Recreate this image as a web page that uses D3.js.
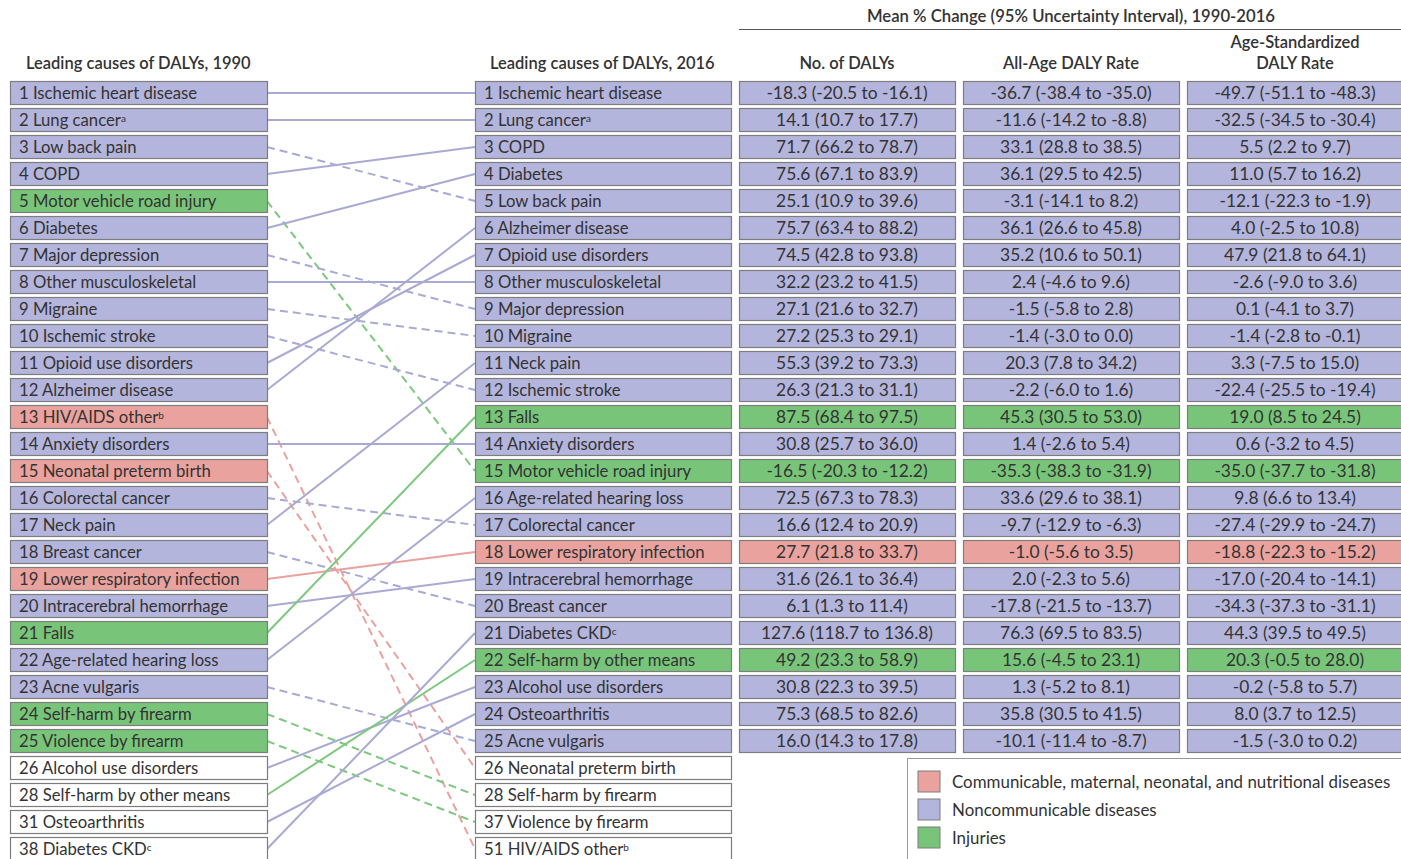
<!DOCTYPE html>
<html>
<head>
<meta charset="utf-8">
<script src="https://cdn.jsdelivr.net/npm/d3@7"></script>
<style>
  body { margin: 0; background: #fff; }
  svg { display: block; font-family: Lato, "Open Sans", sans-serif; }
</style>
</head>
<body>
<svg id="chart" width="1401" height="859"></svg>
<script>
// categories: C = communicable, N = noncommunicable, I = injuries
const causes1990 = [
  ['1', 'Ischemic heart disease', '', 'N'],
  ['2', 'Lung cancer', 'a', 'N'],
  ['3', 'Low back pain', '', 'N'],
  ['4', 'COPD', '', 'N'],
  ['5', 'Motor vehicle road injury', '', 'I'],
  ['6', 'Diabetes', '', 'N'],
  ['7', 'Major depression', '', 'N'],
  ['8', 'Other musculoskeletal', '', 'N'],
  ['9', 'Migraine', '', 'N'],
  ['10', 'Ischemic stroke', '', 'N'],
  ['11', 'Opioid use disorders', '', 'N'],
  ['12', 'Alzheimer disease', '', 'N'],
  ['13', 'HIV/AIDS other', 'b', 'C'],
  ['14', 'Anxiety disorders', '', 'N'],
  ['15', 'Neonatal preterm birth', '', 'C'],
  ['16', 'Colorectal cancer', '', 'N'],
  ['17', 'Neck pain', '', 'N'],
  ['18', 'Breast cancer', '', 'N'],
  ['19', 'Lower respiratory infection', '', 'C'],
  ['20', 'Intracerebral hemorrhage', '', 'N'],
  ['21', 'Falls', '', 'I'],
  ['22', 'Age-related hearing loss', '', 'N'],
  ['23', 'Acne vulgaris', '', 'N'],
  ['24', 'Self-harm by firearm', '', 'I'],
  ['25', 'Violence by firearm', '', 'I'],
  ['26', 'Alcohol use disorders', '', 'N'],
  ['28', 'Self-harm by other means', '', 'I'],
  ['31', 'Osteoarthritis', '', 'N'],
  ['38', 'Diabetes CKD', 'c', 'N']
];

const causes2016 = [
  ['1', 'Ischemic heart disease', '', 'N'],
  ['2', 'Lung cancer', 'a', 'N'],
  ['3', 'COPD', '', 'N'],
  ['4', 'Diabetes', '', 'N'],
  ['5', 'Low back pain', '', 'N'],
  ['6', 'Alzheimer disease', '', 'N'],
  ['7', 'Opioid use disorders', '', 'N'],
  ['8', 'Other musculoskeletal', '', 'N'],
  ['9', 'Major depression', '', 'N'],
  ['10', 'Migraine', '', 'N'],
  ['11', 'Neck pain', '', 'N'],
  ['12', 'Ischemic stroke', '', 'N'],
  ['13', 'Falls', '', 'I'],
  ['14', 'Anxiety disorders', '', 'N'],
  ['15', 'Motor vehicle road injury', '', 'I'],
  ['16', 'Age-related hearing loss', '', 'N'],
  ['17', 'Colorectal cancer', '', 'N'],
  ['18', 'Lower respiratory infection', '', 'C'],
  ['19', 'Intracerebral hemorrhage', '', 'N'],
  ['20', 'Breast cancer', '', 'N'],
  ['21', 'Diabetes CKD', 'c', 'N'],
  ['22', 'Self-harm by other means', '', 'I'],
  ['23', 'Alcohol use disorders', '', 'N'],
  ['24', 'Osteoarthritis', '', 'N'],
  ['25', 'Acne vulgaris', '', 'N'],
  ['26', 'Neonatal preterm birth', '', 'C'],
  ['28', 'Self-harm by firearm', '', 'I'],
  ['37', 'Violence by firearm', '', 'I'],
  ['51', 'HIV/AIDS other', 'b', 'C']
];

const changeDalys = [
  '-18.3 (-20.5 to -16.1)', '14.1 (10.7 to 17.7)', '71.7 (66.2 to 78.7)', '75.6 (67.1 to 83.9)',
  '25.1 (10.9 to 39.6)', '75.7 (63.4 to 88.2)', '74.5 (42.8 to 93.8)', '32.2 (23.2 to 41.5)',
  '27.1 (21.6 to 32.7)', '27.2 (25.3 to 29.1)', '55.3 (39.2 to 73.3)', '26.3 (21.3 to 31.1)',
  '87.5 (68.4 to 97.5)', '30.8 (25.7 to 36.0)', '-16.5 (-20.3 to -12.2)', '72.5 (67.3 to 78.3)',
  '16.6 (12.4 to 20.9)', '27.7 (21.8 to 33.7)', '31.6 (26.1 to 36.4)', '6.1 (1.3 to 11.4)',
  '127.6 (118.7 to 136.8)', '49.2 (23.3 to 58.9)', '30.8 (22.3 to 39.5)', '75.3 (68.5 to 82.6)',
  '16.0 (14.3 to 17.8)'
];

const changeAllAge = [
  '-36.7 (-38.4 to -35.0)', '-11.6 (-14.2 to -8.8)', '33.1 (28.8 to 38.5)', '36.1 (29.5 to 42.5)',
  '-3.1 (-14.1 to 8.2)', '36.1 (26.6 to 45.8)', '35.2 (10.6 to 50.1)', '2.4 (-4.6 to 9.6)',
  '-1.5 (-5.8 to 2.8)', '-1.4 (-3.0 to 0.0)', '20.3 (7.8 to 34.2)', '-2.2 (-6.0 to 1.6)',
  '45.3 (30.5 to 53.0)', '1.4 (-2.6 to 5.4)', '-35.3 (-38.3 to -31.9)', '33.6 (29.6 to 38.1)',
  '-9.7 (-12.9 to -6.3)', '-1.0 (-5.6 to 3.5)', '2.0 (-2.3 to 5.6)', '-17.8 (-21.5 to -13.7)',
  '76.3 (69.5 to 83.5)', '15.6 (-4.5 to 23.1)', '1.3 (-5.2 to 8.1)', '35.8 (30.5 to 41.5)',
  '-10.1 (-11.4 to -8.7)'
];

const changeAgeStd = [
  '-49.7 (-51.1 to -48.3)', '-32.5 (-34.5 to -30.4)', '5.5 (2.2 to 9.7)', '11.0 (5.7 to 16.2)',
  '-12.1 (-22.3 to -1.9)', '4.0 (-2.5 to 10.8)', '47.9 (21.8 to 64.1)', '-2.6 (-9.0 to 3.6)',
  '0.1 (-4.1 to 3.7)', '-1.4 (-2.8 to -0.1)', '3.3 (-7.5 to 15.0)', '-22.4 (-25.5 to -19.4)',
  '19.0 (8.5 to 24.5)', '0.6 (-3.2 to 4.5)', '-35.0 (-37.7 to -31.8)', '9.8 (6.6 to 13.4)',
  '-27.4 (-29.9 to -24.7)', '-18.8 (-22.3 to -15.2)', '-17.0 (-20.4 to -14.1)', '-34.3 (-37.3 to -31.1)',
  '44.3 (39.5 to 49.5)', '20.3 (-0.5 to 28.0)', '-0.2 (-5.8 to 5.7)', '8.0 (3.7 to 12.5)',
  '-1.5 (-3.0 to 0.2)'
];

const legendItems = [
  ['C', 'Communicable, maternal, neonatal, and nutritional diseases'],
  ['N', 'Noncommunicable diseases'],
  ['I', 'Injuries']
];

const FILL = { C: '#e9a29d', N: '#b4b5dc', I: '#78c57a' };
const LINE = { C: '#e9a29d', N: '#a9aad3', I: '#7dc87e' };
const TEXT = '#333';
const BORDER = '#7d7d7d';
const COLORED_ROWS = 25;
const BOX_H = 23;

const svg = d3.select('#chart');

const y = d3.scaleLinear().domain([0, causes1990.length - 1]).range([93, 849]);

const leftCol = { x: 10, w: 257 };
const midCol = { x: 475, w: 256 };
const tableCols = [
  { x: 739, w: 216, values: changeDalys, title: ['No. of DALYs'] },
  { x: 963, w: 216, values: changeAllAge, title: ['All-Age DALY Rate'] },
  { x: 1187, w: 220, values: changeAgeStd, title: ['Age-Standardized', 'DALY Rate'] }
];

// connecting lines (drawn first so boxes sit on top)
const rank2016 = new Map(causes2016.map((d, i) => [d[1], i]));
const links = causes1990.map((d, i) => ({ from: i, to: rank2016.get(d[1]), cat: d[3] }));

svg.append('g')
  .selectAll('line')
  .data(links)
  .join('line')
  .attr('x1', leftCol.x + leftCol.w)
  .attr('y1', d => y(d.from))
  .attr('x2', midCol.x)
  .attr('y2', d => y(d.to))
  .attr('stroke', d => LINE[d.cat])
  .attr('stroke-width', 2)
  .attr('stroke-dasharray', d => d.to > d.from ? '8,5' : null);

function drawCauseColumn(data, col) {
  const g = svg.append('g');
  const rows = g.selectAll('g').data(data).join('g')
    .attr('transform', (d, i) => `translate(${col.x},${y(i)})`);
  rows.append('rect')
    .attr('x', 0.5)
    .attr('y', -BOX_H / 2)
    .attr('width', col.w)
    .attr('height', BOX_H)
    .attr('fill', (d, i) => i < COLORED_ROWS ? FILL[d[3]] : '#fff')
    .attr('stroke', BORDER)
    .attr('stroke-width', 1.2);
  const t = rows.append('text')
    .attr('x', 9)
    .attr('dy', '0.36em')
    .attr('fill', TEXT)
    .style('font-size', '16.7px')
    .text(d => `${d[0]} ${d[1]}`);
  t.filter(d => d[2])
    .append('tspan')
    .attr('dy', '-0.45em')
    .style('font-size', '10px')
    .text(d => d[2]);
}

drawCauseColumn(causes1990, leftCol);
drawCauseColumn(causes2016, midCol);

tableCols.forEach(col => {
  const g = svg.append('g');
  const rows = g.selectAll('g').data(col.values).join('g')
    .attr('transform', (d, i) => `translate(${col.x},${y(i)})`);
  rows.append('rect')
    .attr('x', 0.5)
    .attr('y', -BOX_H / 2)
    .attr('width', col.w)
    .attr('height', BOX_H)
    .attr('fill', (d, i) => FILL[causes2016[i][3]])
    .attr('stroke', BORDER)
    .attr('stroke-width', 1.2);
  rows.append('text')
    .attr('x', Math.min(col.w, 214) / 2 + 1)
    .attr('dy', '0.36em')
    .attr('text-anchor', 'middle')
    .attr('fill', TEXT)
    .style('font-size', '17.4px')
    .text(d => d);

  svg.append('text')
    .attr('x', col.x + 108)
    .attr('y', col.title.length > 1 ? 48 : 69)
    .attr('text-anchor', 'middle')
    .attr('fill', TEXT)
    .style('font-size', '16.5px')
    .style('font-weight', 600)
    .selectAll('tspan')
    .data(col.title)
    .join('tspan')
    .attr('x', col.x + 108)
    .attr('dy', (d, i) => i ? 21 : 0)
    .text(d => d);
});

// column headers
svg.append('text')
  .attr('x', 26).attr('y', 69)
  .attr('fill', TEXT)
  .style('font-size', '16.5px').style('font-weight', 600)
  .text('Leading causes of DALYs, 1990');

svg.append('text')
  .attr('x', 490).attr('y', 69)
  .attr('fill', TEXT)
  .style('font-size', '16.5px').style('font-weight', 600)
  .text('Leading causes of DALYs, 2016');

svg.append('text')
  .attr('x', 1071).attr('y', 22)
  .attr('text-anchor', 'middle')
  .attr('fill', TEXT)
  .style('font-size', '16.7px').style('font-weight', 600)
  .text('Mean % Change (95% Uncertainty Interval), 1990-2016');

svg.append('line')
  .attr('x1', 739).attr('x2', 1401)
  .attr('y1', 29.5).attr('y2', 29.5)
  .attr('stroke', '#555').attr('stroke-width', 1);

// legend
const legend = svg.append('g').attr('transform', 'translate(907,758)');
legend.append('rect')
  .attr('x', 0.5).attr('y', 0.5)
  .attr('width', 520).attr('height', 120)
  .attr('fill', '#fff')
  .attr('stroke', '#999');
const items = legend.selectAll('g.item').data(legendItems).join('g')
  .attr('class', 'item')
  .attr('transform', (d, i) => `translate(11,${13 + i * 28})`);
items.append('rect')
  .attr('width', 22).attr('height', 21)
  .attr('fill', d => FILL[d[0]])
  .attr('stroke', BORDER);
items.append('text')
  .attr('x', 34).attr('y', 11).attr('dy', '0.36em')
  .attr('fill', TEXT)
  .style('font-size', '16.9px')
  .text(d => d[1]);
</script>
</body>
</html>
